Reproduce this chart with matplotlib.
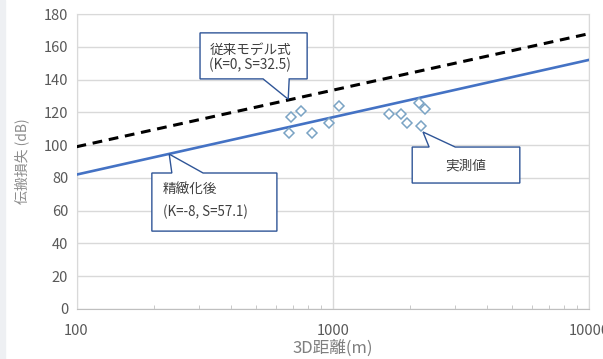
import numpy as np
import matplotlib.pyplot as plt
from matplotlib.patches import Polygon
from matplotlib.ticker import FixedLocator, NullFormatter

plt.rcParams['font.family'] = ['Noto Sans CJK JP', 'DejaVu Sans']

# モデル線 (両端の値をグラフから読み取り)
model_d = [100, 10000]
conv_pl = [99, 168]      # 従来モデル式
refined_pl = [82, 152]   # 精緻化後

# 実測値
meas_d = [677, 685, 752, 832, 970, 1057, 1663, 1841, 1944, 2170, 2210, 2291]
meas_pl = [107.6, 117.0, 121.0, 107.6, 113.7, 123.9, 119.0, 119.0, 113.7, 125.5, 111.7, 121.8]

yticks = [0, 20, 40, 60, 80, 100, 120, 140, 160, 180]
xticks = [100, 1000, 10000]

fig = plt.figure(figsize=(6.03, 3.59), dpi=100)
fig.patches.append(plt.Rectangle((0, 0), 0.009, 1, transform=fig.transFigure,
                                 color='#eef0f3', zorder=-10))
ax = fig.add_axes([0.1269, 0.1393, 0.8499, 0.8217])

ax.set_xscale('log')
ax.set_xlim(100, 10000)
ax.set_ylim(0, 180)

ax.plot(model_d, conv_pl, color='black', lw=2.2, ls=(0, (3.2, 2.2)), zorder=3)
ax.plot(model_d, refined_pl, color='#4472C4', lw=1.9, zorder=3)
ax.plot(meas_d, meas_pl, ls='none', marker='D', ms=5.5, mfc='white',
        mec='#7aa3c4', mew=1.1, zorder=4)

grey = '#d9d9d9'
ax.set_yticks(yticks)
ax.set_xticks(xticks)
ax.set_xticklabels([str(v) for v in xticks])
ax.xaxis.set_minor_locator(FixedLocator([k * 10 ** e for e in (2, 3) for k in range(2, 10)]))
ax.xaxis.set_minor_formatter(NullFormatter())
ax.grid(axis='y', color=grey, lw=1)
ax.grid(axis='x', which='major', color=grey, lw=1)
ax.tick_params(axis='both', which='major', length=0, labelsize=10.5,
               labelcolor='#595959', pad=6)
ax.tick_params(axis='x', which='minor', direction='in', length=3, color='#bfbfbf')
ax.tick_params(axis='x', which='major', pad=11)
for s in ax.spines.values():
    s.set_color(grey)
ax.spines['bottom'].set_color('#bfbfbf')

ax.set_xlabel('3D距離(m)', fontsize=12, color='#7f7f7f', labelpad=1)
ax.set_ylabel('伝搬損失 (dB)', fontsize=10, color='#8c8c8c', labelpad=10)


def callout(box, base, tip, edge):
    # box, base は軸座標, tip はデータ座標
    x0, y0, x1, y1 = box
    tx, ty = ax.transAxes.inverted().transform(ax.transData.transform(tip))
    if edge == 'bottom':
        pts = [(x0, y0), (base[0], y0), (tx, ty), (base[1], y0), (x1, y0),
               (x1, y1), (x0, y1)]
    else:
        pts = [(x0, y0), (x1, y0), (x1, y1), (base[1], y1), (tx, ty),
               (base[0], y1), (x0, y1)]
    ax.add_patch(Polygon(pts, closed=True, transform=ax.transAxes, fc='white',
                         ec='#2f5597', lw=1, zorder=5, clip_on=False))


callout((0.241, 0.780, 0.450, 0.936), (0.364, 0.415), (670, 128), 'bottom')
callout((0.147, 0.264, 0.391, 0.461), (0.186, 0.247), (230, 94.5), 'top')
callout((0.655, 0.427, 0.865, 0.549), (0.688, 0.739), (2250, 108), 'top')

tc = '#404040'
fs = 9.8
ax.text(0.259, 0.878, '従来モデル式', transform=ax.transAxes, fontsize=fs,
        color=tc, va='center', zorder=6)
ax.text(0.259, 0.826, '(K=0, S=32.5)', transform=ax.transAxes, fontsize=fs,
        color=tc, va='center', zorder=6)
ax.text(0.168, 0.407, '精緻化後', transform=ax.transAxes, fontsize=fs,
        color=tc, va='center', zorder=6)
ax.text(0.168, 0.329, '(K=-8, S=57.1)', transform=ax.transAxes, fontsize=9.6,
        color=tc, va='center', zorder=6)
ax.text(0.760, 0.488, '実測値', transform=ax.transAxes, fontsize=fs,
        color=tc, va='center', ha='center', zorder=6)

fig.savefig('out.png', dpi=100)
